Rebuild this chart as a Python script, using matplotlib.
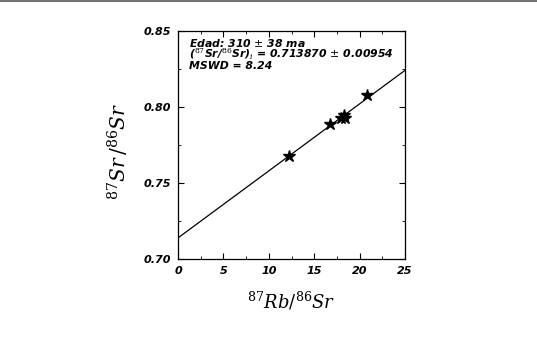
import matplotlib
matplotlib.use('Agg')
import matplotlib.pyplot as plt
import numpy as np
from matplotlib.lines import Line2D

# isochron data
rb_sr = [12.2, 16.7, 18.0, 18.3, 18.4, 20.8]
sr_sr = [0.768, 0.789, 0.793, 0.795, 0.793, 0.808]
intercept = 0.713870
slope = 0.00441
x_ticks = [0, 5, 10, 15, 20, 25]
y_ticks = [0.70, 0.75, 0.80, 0.85]
info = ['Edad: 310 $\\pm$ 38 ma',
        '($^{87}$Sr/$^{86}$Sr)$_i$ = 0.713870 $\\pm$ 0.00954',
        'MSWD = 8.24']

plt.rcParams['mathtext.fontset'] = 'dejavuserif'

fig = plt.figure(figsize=(5.37, 3.38), dpi=100)
ax = fig.add_axes([178/537, 1-259/338, 227/537, 228/338])

xl = np.array([0, 25])
ax.plot(xl, intercept + slope*xl, color='k', lw=0.9, zorder=2)
ax.plot(rb_sr, sr_sr, linestyle='none', marker='*', ms=9,
        color='k', zorder=3)

ax.set_xlim(0, 25)
ax.set_ylim(0.70, 0.85)
ax.set_xticks(x_ticks)
ax.set_yticks(y_ticks)
ax.set_xticklabels([str(t) for t in x_ticks])
ax.set_yticklabels([f'{t:.2f}' for t in y_ticks])
ax.set_xticks(np.arange(0, 25, 2.5), minor=True)
ax.set_yticks(np.arange(0.70, 0.85, 0.025), minor=True)
ax.tick_params(which='both', direction='in', top=True, right=True)
ax.tick_params(which='major', length=4, width=0.8, pad=5)
ax.tick_params(which='minor', length=2, width=0.6)
for lab in ax.get_xticklabels() + ax.get_yticklabels():
    lab.set_fontsize(8)
    lab.set_fontweight('bold')
    lab.set_fontstyle('italic')
for s in ax.spines.values():
    s.set_linewidth(0.9)

ax.text(0.05, 0.975, '\n'.join(info), transform=ax.transAxes,
        ha='left', va='top', fontsize=7.8, fontweight='bold',
        fontstyle='italic', linespacing=0.85)

ax.set_xlabel('$^{87}Rb/^{86}Sr$', fontsize=13, labelpad=10)
ax.set_ylabel('$^{87}Sr\\,/^{86}Sr$', fontsize=14.5)
ax.yaxis.set_label_coords(-0.205, 0.47)

# scan border at the top
fig.add_artist(Line2D([0, 1], [0.998, 0.998], transform=fig.transFigure,
                      color='0.45', lw=1.5))

fig.savefig('out.png', dpi=100)
